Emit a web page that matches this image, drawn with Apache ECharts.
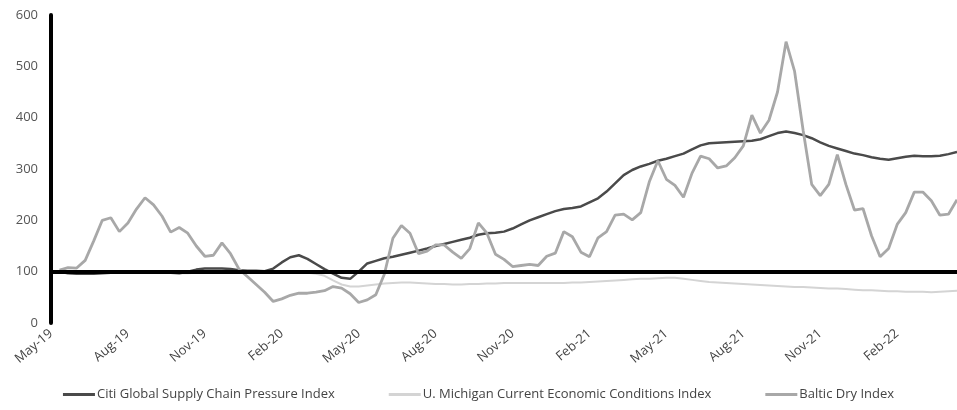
<!DOCTYPE html>
<html>
<head>
<meta charset="utf-8">
<script src="https://cdn.jsdelivr.net/npm/echarts@6/dist/echarts.min.js"></script>
<style>
  html, body { margin: 0; padding: 0; background: #fff; }
  #chart { width: 957px; height: 410px; }
</style>
</head>
<body>
<div id="chart"></div>
<script>
// quarterly tick labels, three points per month between them
const tickLabels = ['May-19', 'Aug-19', 'Nov-19', 'Feb-20', 'May-20', 'Aug-20',
  'Nov-20', 'Feb-21', 'May-21', 'Aug-21', 'Nov-21', 'Feb-22'];

const citi = [null,
  100, 97, 96, 96, 96, 97, 98, 98, 98, 98, 98, 98, 98, 98, 97, 100, 104, 106, 106, 106,
  105, 103, 102, 102, 101, 106, 118, 128, 132, 125, 115, 105, 96, 88, 86, 100, 116, 121, 126, 129,
  133, 137, 141, 145, 150, 154, 158, 162, 166, 172, 175, 176, 178, 184, 192, 200, 206, 212, 218, 222,
  224, 227, 235, 243, 256, 272, 288, 298, 305, 310, 316, 320, 325, 330, 338, 346, 350, 351, 352, 353,
  354, 355, 358, 364, 370, 373, 370, 366, 360, 352, 345, 340, 335, 330, 327, 323, 320, 318, 321, 324,
  326, 325, 325, 326, 329, 333];

const michigan = [null,
  100, 99, 98, 98, 99, 100, 100, 100, 99, 99, 99, 99, 98, 98, 97, 97, 98, 99, 100, 100,
  100, 100, 101, 101, 101, 101, 101, 100, 99, 98, 96, 92, 83, 75, 71, 71, 73, 75, 77, 78,
  79, 79, 78, 77, 76, 76, 75, 75, 76, 76, 77, 77, 78, 78, 78, 78, 78, 78, 78, 78,
  79, 79, 80, 81, 82, 83, 84, 85, 86, 86, 87, 88, 88, 86, 84, 82, 80, 79, 78, 77,
  76, 75, 74, 73, 72, 71, 70, 70, 69, 68, 67, 67, 66, 65, 64, 64, 63, 62, 62, 61,
  61, 61, 60, 61, 62, 63];

const baltic = [null,
  103, 108, 107, 122, 160, 200, 205, 178, 195, 222, 244, 230, 208, 177, 186, 175, 150, 130, 132, 156,
  135, 105, 90, 75, 60, 42, 47, 54, 58, 58, 60, 63, 71, 68, 57, 40, 45, 55, 95, 165,
  190, 175, 135, 140, 152, 152, 138, 126, 145, 195, 175, 134, 124, 110, 112, 114, 112, 130, 136, 178,
  168, 138, 129, 166, 178, 210, 212, 201, 215, 275, 316, 280, 268, 245, 292, 325, 320, 302, 306, 322,
  345, 405, 370, 395, 450, 548, 490, 375, 270, 248, 270, 328, 270, 220, 223, 170, 129, 145, 192, 215,
  255, 255, 238, 210, 212, 240];

const perMonth = 3;
const perTick = perMonth * 3;
const categories = [];
for (let i = 0; i < baltic.length; i++) {
  categories.push(i % perTick === 0 ? tickLabels[i / perTick] : tickLabels[Math.floor(i / perTick)] + '.' + (i % perTick));
}

const myChart = echarts.init(document.getElementById('chart'));
const font = '"Open Sans", Lato, sans-serif';

const option = {
  animation: false,
  backgroundColor: '#fff',
  grid: { left: 51, right: 0, top: 15, bottom: 87, containLabel: false },
  legend: {
    bottom: 4,
    left: 'center',
    itemWidth: 32,
    itemHeight: 3,
    itemGap: 54,
    icon: 'rect',
    textStyle: { fontFamily: font, fontSize: 13, color: '#444', padding: [0, 0, 0, -3] },
    data: ['Citi Global Supply Chain Pressure Index',
      'U. Michigan Current Economic Conditions Index',
      'Baltic Dry Index']
  },
  xAxis: {
    type: 'category',
    data: categories,
    boundaryGap: false,
    axisLine: { show: false },
    axisTick: { show: false },
    axisLabel: {
      interval: function (i) { return i % perTick === 0; },
      rotate: 40,
      margin: 9,
      fontFamily: font,
      fontSize: 13,
      color: '#444'
    },
    splitLine: { show: false }
  },
  yAxis: {
    type: 'value',
    min: 0,
    max: 600,
    interval: 100,
    axisLine: { show: true, lineStyle: { color: '#000', width: 4 } },
    axisTick: { show: false },
    axisLabel: { margin: 13, fontFamily: font, fontSize: 13, color: '#555' },
    splitLine: { show: false }
  },
  series: [
    {
      name: 'base',
      type: 'line',
      data: [],
      z: 1,
      silent: true,
      markLine: {
        silent: true,
        symbol: ['none', 'none'],
        label: { show: false },
        lineStyle: { color: '#000', width: 4, type: 'solid' },
        data: [{ yAxis: 100 }]
      }
    },
    {
      name: 'Citi Global Supply Chain Pressure Index',
      type: 'line',
      data: citi,
      symbol: 'none',
      z: 3,
      lineStyle: { color: '#4a4a4a', width: 2.5 },
      itemStyle: { color: '#4a4a4a' }
    },
    {
      name: 'U. Michigan Current Economic Conditions Index',
      type: 'line',
      data: michigan,
      symbol: 'none',
      z: 2,
      lineStyle: { color: '#d4d4d4', width: 2 },
      itemStyle: { color: '#d4d4d4' }
    },
    {
      name: 'Baltic Dry Index',
      type: 'line',
      data: baltic,
      symbol: 'none',
      z: 4,
      lineStyle: { color: '#a8a8a8', width: 2.8 },
      itemStyle: { color: '#a8a8a8' }
    }
  ]
};

myChart.setOption(option);
</script>
</body>
</html>
